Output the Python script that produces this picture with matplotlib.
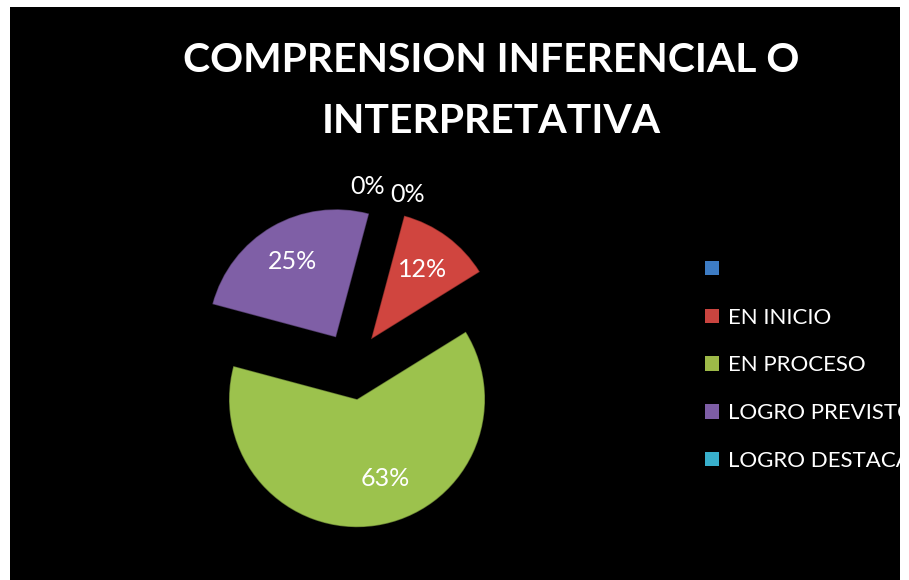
import matplotlib
matplotlib.use("Agg")
import matplotlib.pyplot as plt
from matplotlib.patches import Rectangle
import numpy as np

# datos del grafico
categorias = ["", "EN INICIO", "EN PROCESO", "LOGRO PREVISTO", "LOGRO DESTACADO"]
porcentajes = [0, 12, 63, 25, 0]
titulo = "COMPRENSION INFERENCIAL O\nINTERPRETATIVA"

colores_pie = ["#3F7DC2", "#D0453F", "#9CC24D", "#7F5FA6", "#3AAFCB"]
colores_leyenda = ["#3D7CC4", "#C9443F", "#9DB948", "#7D5DA5", "#38AFCB"]
explode = [0.25, 0.25, 0.27, 0.25, 0.25]

plt.rcParams["font.family"] = ["Lato", "DejaVu Sans"]

fig = plt.figure(figsize=(9.09, 5.8), dpi=100)
fig.patch.set_facecolor("black")

ax = fig.add_axes([0.1619, 0.0176, 0.4506, 0.7062])

wedges, _, textos = ax.pie(porcentajes, colors=colores_pie, explode=explode,
                           startangle=75, counterclock=False, radius=1.0,
                           autopct="%1.0f%%", pctdistance=0.68,
                           wedgeprops=dict(edgecolor="#00000055", linewidth=1.0),
                           textprops=dict(color="white", fontsize=18))
ax.set_xlim(-1.6, 1.6)
ax.set_ylim(-1.6, 1.6)
ax.set_aspect("equal")
ax.axis("off")

# las etiquetas de 0% van fuera, encima de la torta
angulos_cero = {0: 18, 4: 5}
for i, ang in angulos_cero.items():
    t = np.deg2rad(90 - ang)
    textos[i].set_position((1.40 * np.cos(t), 1.40 * np.sin(t)))

# la etiqueta del 63% algo girada hacia la derecha, como en Excel
w = wedges[2]
t = np.deg2rad((w.theta1 + w.theta2) / 2 + 11)
textos[2].set_position((w.center[0] + 0.66 * np.cos(t), w.center[1] + 0.66 * np.sin(t)))

# leyenda
handles = [Rectangle((0, 0), 1, 1, facecolor=c, edgecolor="none") for c in colores_leyenda]
leg = fig.legend(handles, categorias, loc="upper left", bbox_to_anchor=(0.7756, 0.552),
                 frameon=False, fontsize=16, labelcolor="white",
                 handlelength=0.63, handleheight=0.63, handletextpad=0.4,
                 labelspacing=1.25, borderaxespad=0, borderpad=0)

fig.text(0.540, 0.928, titulo, ha="center", va="top", color="white",
         fontsize=29.4, fontweight="bold", linespacing=1.8)

# marco blanco (recorta la leyenda a la derecha)
for x, y, w_, h in [(0, 0, 10 / 909, 1), (0, 1 - 7 / 580, 1, 7 / 580), (900 / 909, 0, 9 / 909, 1)]:
    fig.add_artist(Rectangle((x, y), w_, h, transform=fig.transFigure,
                             facecolor="white", edgecolor="none", zorder=20))

fig.savefig("out.png", dpi=100, facecolor=fig.get_facecolor())
